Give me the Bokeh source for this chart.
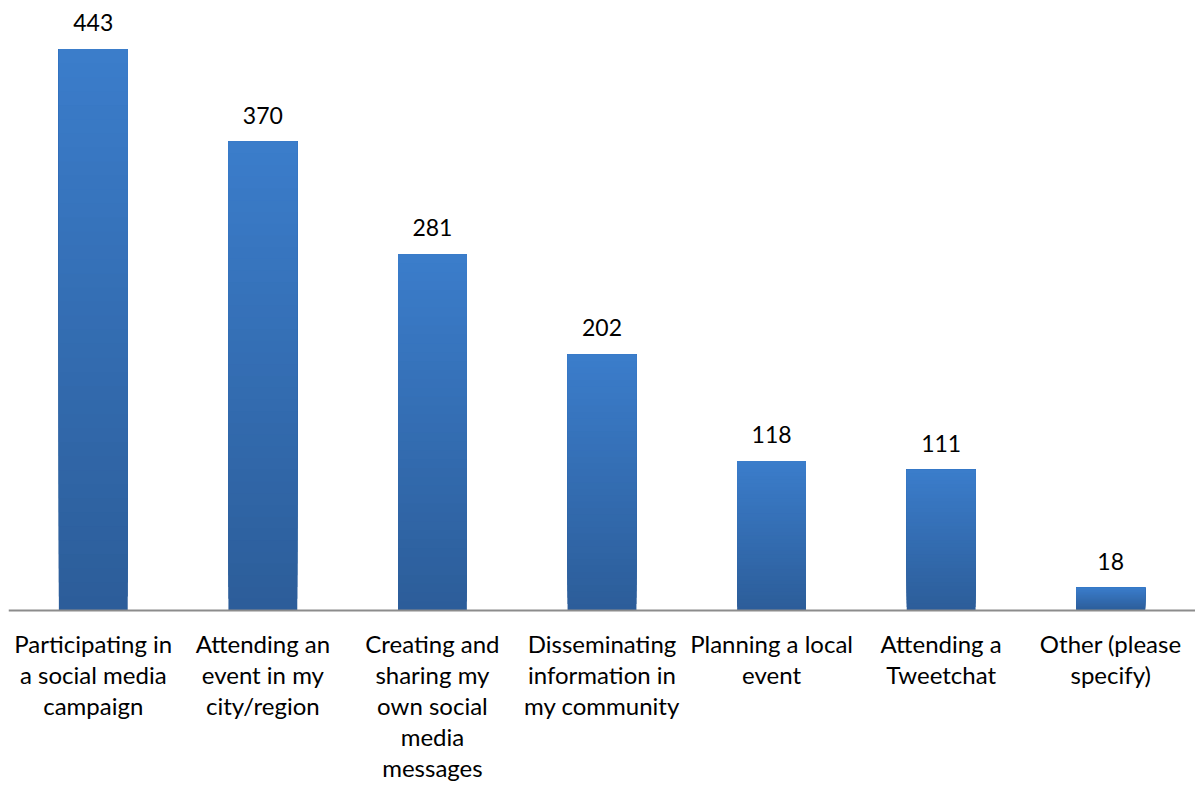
from bokeh.plotting import figure
from bokeh.models import ColumnDataSource, FactorRange, Range1d, LabelSet, Span
from bokeh.embed import file_html
from bokeh.resources import INLINE
from bokeh.core.properties import value

categories = [
    "Participating in\na social media\ncampaign",
    "Attending an\nevent in my\ncity/region",
    "Creating and\nsharing my\nown social\nmedia\nmessages",
    "Disseminating\ninformation in\nmy community",
    "Planning a local\nevent",
    "Attending a\nTweetchat",
    "Other (please\nspecify)",
]
counts = [443, 370, 281, 202, 118, 111, 18]

TOP = (0x3B, 0x7D, 0xCB)
BOTTOM = (0x2C, 0x5D, 0x99)
N = 40

W, H = 1195, 787
LEFT, TOPB = 8, 8
FRAME_H = H - TOPB
AXIS_Y = 602           # pixel row of the baseline inside the frame
YMAX = 475
ppu = AXIS_Y / YMAX
YMIN = -(FRAME_H - AXIS_Y) / ppu
LABEL_GAP = 18
LINE_PITCH = 31

xs, bottoms, tops, colors = [], [], [], []
for c, v in zip(categories, counts):
    for i in range(N):
        t = (i + 0.5) / N
        col = tuple(int(round(BOTTOM[k] + (TOP[k] - BOTTOM[k]) * t)) for k in range(3))
        xs.append(c)
        bottoms.append(v * i / N)
        tops.append(v)
        colors.append("#%02x%02x%02x" % col)

src = ColumnDataSource(dict(x=xs, bottom=bottoms, top=tops, color=colors))
lab = ColumnDataSource(dict(x=categories, y=counts, t=[str(v) for v in counts]))

lx, ltxt, loff = [], [], []
for c in categories:
    for j, line in enumerate(c.split("\n")):
        lx.append(c)
        ltxt.append(line)
        loff.append(-(LABEL_GAP + j * LINE_PITCH))
lines = ColumnDataSource(dict(x=lx, y=[0] * len(lx), t=ltxt, off=loff))

p = figure(
    x_range=FactorRange(*categories, range_padding=0),
    y_range=Range1d(YMIN, YMAX),
    width=W, height=H,
    output_backend="svg", toolbar_location=None,
    min_border_left=LEFT, min_border_right=0, min_border_top=TOPB, min_border_bottom=0,
)
p.vbar(x="x", bottom="bottom", top="top", width=0.406, color="color",
       line_color=None, source=src)

p.add_layout(Span(location=0, dimension="width", line_color="#8c8c8c", line_width=2))

vals = LabelSet(x="x", y="y", text="t", source=lab, y_offset=18,
                text_align="center", text_baseline="bottom",
                text_font=value("Lato"), text_font_size="23px",
                text_color="#000000")
p.add_layout(vals)

cats = LabelSet(x="x", y="y", text="t", source=lines, y_offset="off",
                text_align="center", text_baseline="top",
                text_font=value("Lato"), text_font_size="24px",
                text_color="#000000")
p.add_layout(cats)

p.xaxis.visible = False
p.yaxis.visible = False
p.xgrid.visible = False
p.ygrid.visible = False
p.outline_line_color = None
p.background_fill_color = "white"
p.border_fill_color = "white"

open("out.html", "w").write(file_html(p, INLINE))
